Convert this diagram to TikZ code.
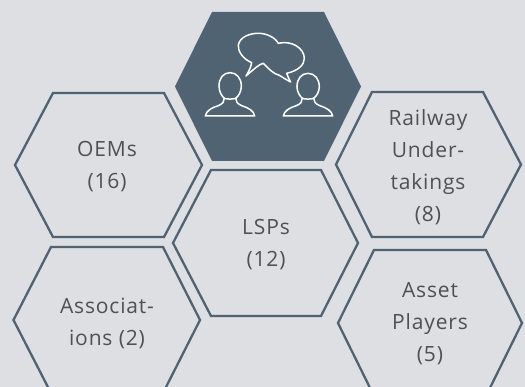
\documentclass[tikz,border=0pt]{standalone}
\usepackage{fontspec}
\setmainfont{Open Sans}[LetterSpace=4]
\definecolor{bgc}{HTML}{DDDFE3}
\definecolor{hexc}{HTML}{4F6372}
\definecolor{txtc}{HTML}{505050}
\tikzset{
  hexline/.style={draw=hexc,line width=2.3pt,line join=miter,fill=bgc},
  hexlabel/.style={text=txtc,align=center,font=\fontsize{21}{32}\selectfont,inner sep=0pt},
  iconline/.style={draw=white,line width=1.5pt,line join=round,line cap=round}
}
\begin{document}
\begin{tikzpicture}[x=1pt,y=-1pt]
\useasboundingbox (0,0) rectangle (525,387);
\fill[bgc] (0,0) rectangle (525,387);
\begin{scope}
\clip (0,0) rectangle (525,387);
\fill[hexc] (212,12) -- (324,12) -- (361,86.5) -- (324,161) -- (212,161) -- (175,86.5) -- cycle;
\draw[hexline] (53,93) -- (164,93) -- (202,165) -- (164,237) -- (53,237) -- (15,165) -- cycle;
\draw[hexline] (211,170) -- (321,170) -- (358,243) -- (321,316) -- (211,316) -- (173,243) -- cycle;
\draw[hexline] (372,92) -- (483,92) -- (521,164.5) -- (483,237) -- (372,237) -- (336,164.5) -- cycle;
\draw[hexline] (51,247) -- (163,247) -- (200,320) -- (163,393) -- (51,393) -- (13.5,320) -- cycle;
\draw[hexline] (374,250) -- (486,250) -- (522,323) -- (486,396) -- (374,396) -- (338,323) -- cycle;
\end{scope}
\node[hexlabel] (oems) at (107,167) {OEMs\\(16)};
\node[hexlabel] (lsps) at (266,245) {LSPs\\(12)};
\node[hexlabel] (rail) at (428,167) {Railway\\Under-\\takings\\(8)};
\node[hexlabel] (assoc) at (107,323) {Associat-\\ions (2)};
\node[hexlabel] (asset) at (430,324) {Asset\\Players\\(5)};
\begin{scope}[shift={(170,0)},x=0.3333pt,y=-0.3333pt,iconline]
% speech bubbles
\draw (228,228) .. controls (238,212) and (243,200) .. (245,188)
  .. controls (215,175) and (203,150) .. (205,135)
  .. controls (210,110) and (240,100) .. (265,100)
  .. controls (290,100) and (315,112) .. (325,130)
  .. controls (365,120) and (403,145) .. (403,175)
  .. controls (403,195) and (385,212) .. (350,220)
  .. controls (353,230) and (358,238) .. (362,246)
  .. controls (350,240) and (338,232) .. (328,226)
  .. controls (310,222) and (295,205) .. (280,190)
  .. controls (268,192) and (255,205) .. (228,228) -- cycle;
% left person
\draw (180,218) .. controls (160,218) and (147,235) .. (147,258)
  .. controls (147,275) and (155,288) .. (163,295)
  .. controls (163,305) and (158,312) .. (145,317)
  .. controls (125,323) and (108,333) .. (106,348)
  -- (254,348)
  .. controls (252,333) and (235,323) .. (215,317)
  .. controls (203,312) and (197,305) .. (197,295)
  .. controls (206,288) and (214,275) .. (214,258)
  .. controls (214,235) and (200,218) .. (180,218) -- cycle;
\draw (163,295) .. controls (172,298) and (188,298) .. (197,295);
% right person
\draw (414,220) .. controls (394,220) and (381,237) .. (381,260)
  .. controls (381,275) and (389,288) .. (397,295)
  .. controls (397,305) and (392,312) .. (379,317)
  .. controls (359,323) and (342,333) .. (340,348)
  -- (488,348)
  .. controls (486,333) and (469,323) .. (449,317)
  .. controls (437,312) and (431,305) .. (431,295)
  .. controls (440,288) and (448,275) .. (448,260)
  .. controls (448,237) and (434,220) .. (414,220) -- cycle;
\draw (397,295) .. controls (406,298) and (422,298) .. (431,295);
\end{scope}
\end{tikzpicture}
\end{document}
